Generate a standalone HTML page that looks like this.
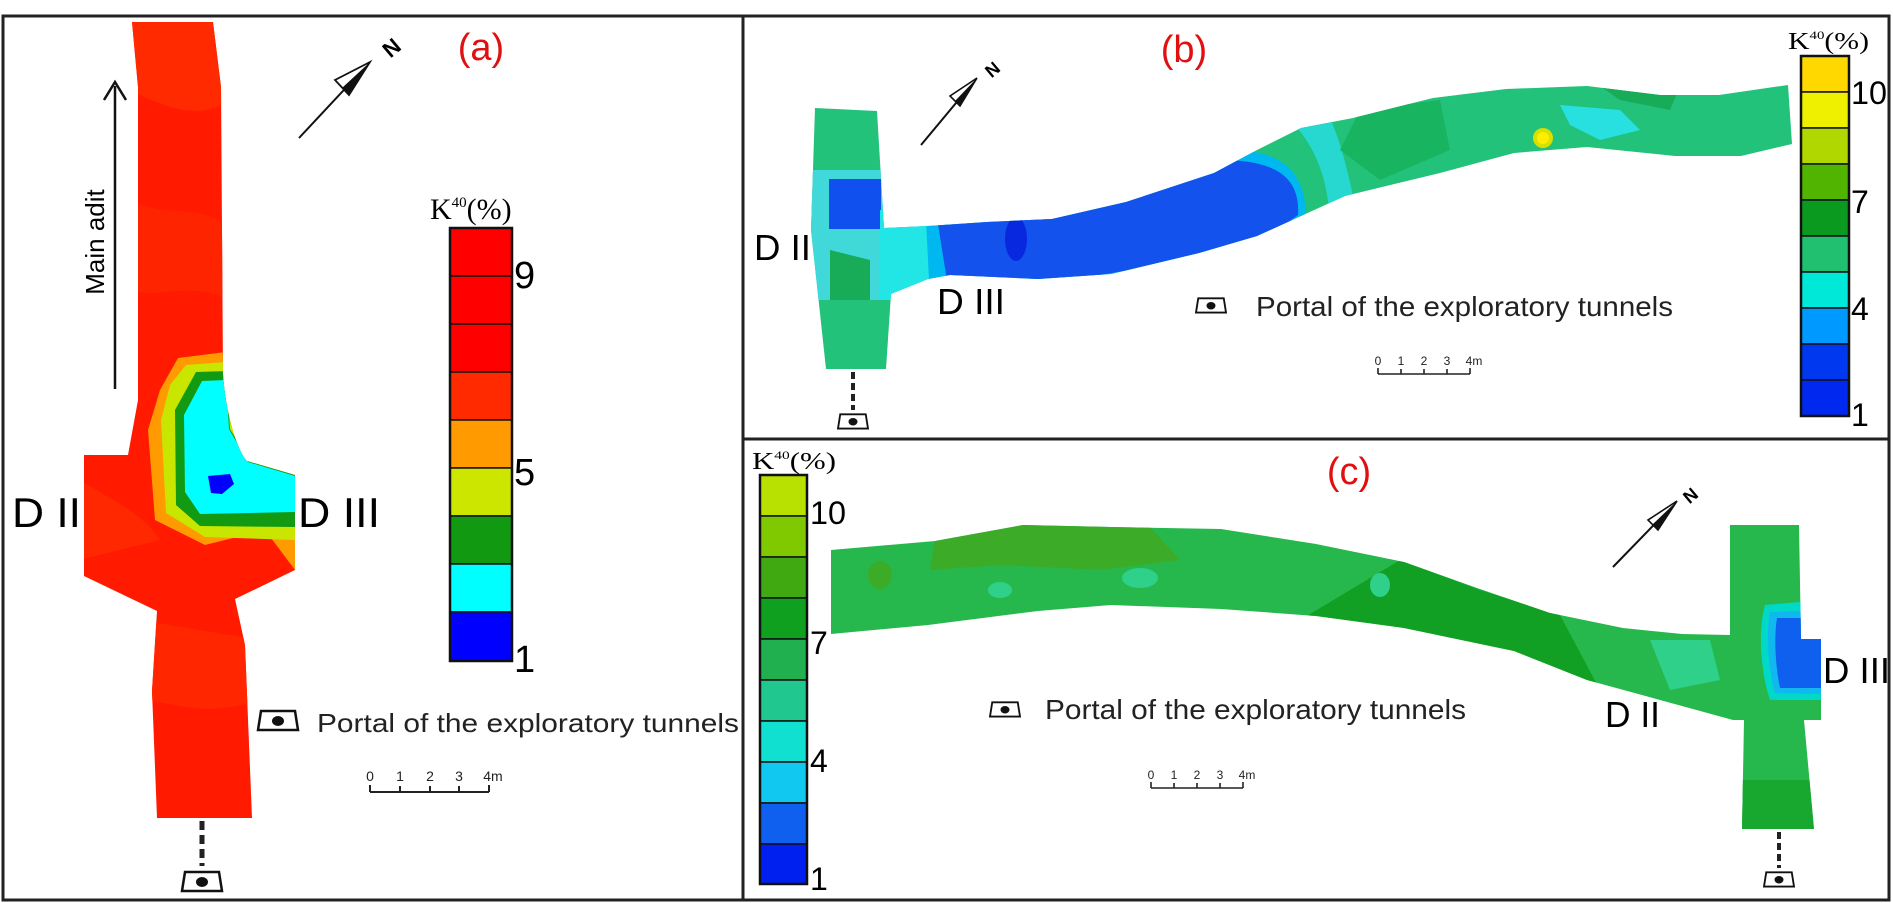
<!DOCTYPE html>
<html><head><meta charset="utf-8"><style>
html,body{margin:0;padding:0;background:#fff;}
svg{display:block}
text{font-family:"Liberation Sans",sans-serif;}
.sf{font-family:"Liberation Serif",serif;}
</style></head><body>
<svg width="1893" height="903" viewBox="0 0 1893 903" xmlns="http://www.w3.org/2000/svg">
<defs>
<g id="portal"><path d="M-17,-9 L17,-9 L20,10 L-20,10 Z" fill="#fff" stroke="#111" stroke-width="2.5"/><ellipse cx="0" cy="1" rx="6" ry="5" fill="#111"/></g>
<clipPath id="ca"><path d="M132,22 L213,22 L221,87 L223,374 C226,420 240,455 247,461 L295,475 L295,570 L235,599 L245,645 L252,818 L157,818 L152,691 L157,611 L84,576 L84,455 L128,455 L138,400 L138,87 Z"/></clipPath>
<clipPath id="cb"><path d="M815,108 L877,111 L884,228 L928,226 L987,222 L1052,219 L1126,202 L1214,173 L1257,150 L1301,128 L1353,118 L1433,98 L1506,89 L1587,86 L1660,95 L1719,95 L1788,85 L1792,144 L1741,156 L1675,156 L1587,147 L1514,153 L1440,173 L1345,196 L1301,216 L1257,236 L1199,253 L1111,274 L1038,279 L950,275 L928,279 L891,294 L886,369 L826,369 L811,230 Z"/></clipPath>
<clipPath id="cc"><path d="M831,550 L935,541 L1023,525 L1111,527 L1221,529 L1316,544 L1404,562 L1477,588 L1550,613 L1623,628 L1682,634 L1730,635 L1730,525 L1799,525 L1801,639 L1821,639 L1821,720 L1804,720 L1814,829 L1742,829 L1744,720 L1733,720 L1660,700 L1587,680 L1514,651 L1404,628 L1316,616 L1221,609 L1111,605 L1038,611 L928,625 L831,634 Z"/></clipPath>
</defs>
<rect x="3" y="16" width="1886" height="884" fill="none" stroke="#222" stroke-width="3"/>
<line x1="743" y1="16" x2="743" y2="900" stroke="#222" stroke-width="3"/>
<line x1="743" y1="439" x2="1889" y2="439" stroke="#222" stroke-width="3"/>

<!-- PANEL A -->
<g clip-path="url(#ca)">
<rect x="0" y="0" width="400" height="900" fill="#ff1a00"/>
<path d="M130,90 C170,110 200,120 230,100 L230,22 L130,22Z" fill="#ff2a00"/>
<path d="M130,200 C170,220 200,200 230,230 L230,300 C190,280 160,300 130,290Z" fill="#ff2400"/>
<path d="M80,480 C110,500 140,510 160,540 L80,560Z" fill="#ff2800"/>
<path d="M140,620 L260,640 L260,700 C200,720 170,700 140,700Z" fill="#ff2600"/>
<path d="M178,358 L226,352 L295,475 L295,570 L265,530 L205,545 L155,520 L148,430 L160,390 Z" fill="#ff9a00"/>
<path d="M186,365 L226,362 L295,475 L295,540 L205,537 L166,513 L161,420 L170,385 Z" fill="#c8e600"/>
<path d="M196,372 L226,371 L230,429 L249,461 L295,475 L295,527 L200,526 L176,505 L175,410 Z" fill="#129a12"/>
<path d="M202,381 L226,380 L229,429 L248,462 L295,476 L295,512 L200,514 L185,492 L184,415 Z" fill="#00ffff"/>
<path d="M208,476 L230,474 L234,484 L222,494 L211,493Z" fill="#0000ff"/>
</g>
<line x1="115" y1="389" x2="115" y2="86" stroke="#111" stroke-width="2.5"/>
<path d="M104,100 L115,82 L126,100" fill="none" stroke="#111" stroke-width="2.5"/>
<text x="0" y="0" font-size="26" transform="translate(104,242) rotate(-90)" text-anchor="middle">Main adit</text>
<line x1="299" y1="138" x2="370" y2="62" stroke="#111" stroke-width="2"/>
<path d="M370,62 L335,80 L349,95 Z" fill="#fff" stroke="#111" stroke-width="1.8"/>
<path d="M370,62 L342,88 L349,95Z" fill="#111"/>
<text x="390" y="56" font-size="22" font-weight="bold" transform="rotate(-40 390 46)" text-anchor="middle">N</text>
<text x="481" y="60" font-size="38" fill="#e01010" text-anchor="middle">(a)</text>
<text x="430" y="219" font-size="30" class="sf">K<tspan font-size="15" dy="-12">40</tspan><tspan dy="12">(%)</tspan></text>
<g stroke="#111" stroke-width="1.5">
<rect x="450" y="228" width="62" height="48" fill="#ff0000"/>
<rect x="450" y="276" width="62" height="48" fill="#ff0000"/>
<rect x="450" y="324" width="62" height="48" fill="#ff0000"/>
<rect x="450" y="372" width="62" height="48" fill="#ff2a00"/>
<rect x="450" y="420" width="62" height="48" fill="#ff9a00"/>
<rect x="450" y="468" width="62" height="48" fill="#cce600"/>
<rect x="450" y="516" width="62" height="48" fill="#129912"/>
<rect x="450" y="564" width="62" height="48" fill="#00ffff"/>
<rect x="450" y="612" width="62" height="49" fill="#0000ff"/>
</g>
<rect x="450" y="228" width="62" height="433" fill="none" stroke="#111" stroke-width="2.5"/>
<text x="514" y="288" font-size="38">9</text>
<text x="514" y="485" font-size="38">5</text>
<text x="514" y="672" font-size="38">1</text>
<text x="12" y="527" font-size="42" textLength="69" lengthAdjust="spacingAndGlyphs">D II</text>
<text x="298" y="527" font-size="42" textLength="82" lengthAdjust="spacingAndGlyphs">D III</text>
<use href="#portal" x="278" y="720"/>
<text x="317" y="732" font-size="26" fill="#222" textLength="422" lengthAdjust="spacingAndGlyphs">Portal of the exploratory tunnels</text>
<g stroke="#222" stroke-width="2"><line x1="370" y1="792" x2="489" y2="792"/><line x1="370" y1="785" x2="370" y2="792"/><line x1="400" y1="786" x2="400" y2="792"/><line x1="430" y1="786" x2="430" y2="792"/><line x1="459" y1="786" x2="459" y2="792"/><line x1="489" y1="785" x2="489" y2="792"/></g>
<g font-size="14" fill="#222" text-anchor="middle"><text x="370" y="781">0</text><text x="400" y="781">1</text><text x="430" y="781">2</text><text x="459" y="781">3</text><text x="493" y="781">4m</text></g>
<line x1="202" y1="821" x2="202" y2="866" stroke="#222" stroke-width="5" stroke-dasharray="9,5"/>
<use href="#portal" x="202" y="881"/>

<!-- PANEL B -->
<g clip-path="url(#cb)">
<rect x="800" y="60" width="1000" height="320" fill="#22c27a"/>
<path d="M805,200 L890,200 L930,230 L950,300 L800,300Z" fill="#40d8d8"/>
<rect x="805" y="170" width="80" height="40" fill="#40d8d8"/>
<rect x="829" y="179" width="52" height="50" fill="#1050ee"/>
<path d="M880,210 L930,215 L960,300 L880,300Z" fill="#22e6e6"/>
<path d="M925,200 L1230,150 C1290,150 1310,180 1305,230 L1250,260 L930,300Z" fill="#00b8f0"/>
<path d="M935,205 L1220,160 C1280,160 1300,180 1298,215 L1250,250 L950,300Z" fill="#1452ee"/>
<ellipse cx="1016" cy="239" rx="11" ry="22" fill="#0828e0"/>
<path d="M1290,120 C1320,150 1330,190 1330,230 L1360,230 C1350,180 1340,130 1320,100Z" fill="#26d8d0"/>
<path d="M1360,110 L1440,100 L1450,150 L1380,180 L1340,150Z" fill="#18b460"/>
<path d="M1560,105 L1620,110 L1640,130 L1600,140 L1570,125Z" fill="#28e0e0"/>
<path d="M1600,86 L1680,86 L1670,110 L1620,100Z" fill="#18ac58"/>
<circle cx="1543" cy="138" r="10" fill="#d8e000"/><circle cx="1543" cy="138" r="6" fill="#ffee00"/>
<path d="M830,250 L870,260 L870,300 L830,300Z" fill="#18ac58"/>
</g>
<line x1="921" y1="145" x2="976" y2="79" stroke="#111" stroke-width="2"/>
<path d="M977,78 L950,96 L960,106Z" fill="#fff" stroke="#111" stroke-width="1.6"/>
<path d="M977,78 L955,101 L960,106Z" fill="#111"/>
<text x="992" y="76" font-size="18" font-weight="bold" transform="rotate(-40 992 69)" text-anchor="middle">N</text>
<text x="1184" y="62" font-size="38" fill="#e01010" text-anchor="middle">(b)</text>
<text x="1788" y="49" font-size="24" class="sf" textLength="81" lengthAdjust="spacingAndGlyphs">K<tspan font-size="12" dy="-10">40</tspan><tspan dy="10">(%)</tspan></text>
<g stroke="#111" stroke-width="1.5">
<rect x="1801" y="56" width="48" height="36" fill="#ffd800"/>
<rect x="1801" y="92" width="48" height="36" fill="#eef000"/>
<rect x="1801" y="128" width="48" height="36" fill="#b0d800"/>
<rect x="1801" y="164" width="48" height="36" fill="#50b400"/>
<rect x="1801" y="200" width="48" height="36" fill="#0a9a20"/>
<rect x="1801" y="236" width="48" height="36" fill="#20c070"/>
<rect x="1801" y="272" width="48" height="36" fill="#00e8d8"/>
<rect x="1801" y="308" width="48" height="36" fill="#0099ff"/>
<rect x="1801" y="344" width="48" height="36" fill="#0038f0"/>
<rect x="1801" y="380" width="48" height="36" fill="#0028ee"/>
</g>
<rect x="1801" y="56" width="48" height="360" fill="none" stroke="#111" stroke-width="2.5"/>
<g font-size="32"><text x="1851" y="104" textLength="36" lengthAdjust="spacingAndGlyphs">10</text><text x="1851" y="213">7</text><text x="1851" y="320">4</text><text x="1851" y="426">1</text></g>
<text x="754" y="260" font-size="36" textLength="57" lengthAdjust="spacingAndGlyphs">D II</text>
<text x="937" y="314" font-size="36" textLength="68" lengthAdjust="spacingAndGlyphs">D III</text>
<use href="#portal" transform="translate(1211 305) scale(0.75)"/>
<text x="1256" y="316" font-size="28" fill="#222" textLength="417" lengthAdjust="spacingAndGlyphs">Portal of the exploratory tunnels</text>
<g stroke="#222" stroke-width="1.6"><line x1="1378" y1="374" x2="1470" y2="374"/><line x1="1378" y1="368" x2="1378" y2="374"/><line x1="1401" y1="369" x2="1401" y2="374"/><line x1="1424" y1="369" x2="1424" y2="374"/><line x1="1447" y1="369" x2="1447" y2="374"/><line x1="1470" y1="368" x2="1470" y2="374"/></g>
<g font-size="12" fill="#222" text-anchor="middle"><text x="1378" y="365">0</text><text x="1401" y="365">1</text><text x="1424" y="365">2</text><text x="1447" y="365">3</text><text x="1474" y="365">4m</text></g>
<line x1="853" y1="372" x2="853" y2="410" stroke="#222" stroke-width="4" stroke-dasharray="7,4"/>
<use href="#portal" transform="translate(853 421) scale(0.75)"/>

<!-- PANEL C -->
<g clip-path="url(#cc)">
<rect x="820" y="500" width="1010" height="340" fill="#26b84c"/>
<path d="M935,541 L1023,520 L1150,527 L1180,560 L1100,570 L1000,565 L930,570Z" fill="#3cac28"/>
<path d="M1300,620 L1400,560 L1480,590 L1560,615 L1600,690 L1500,660 L1380,630Z" fill="#12a024"/>
<path d="M1740,780 L1812,780 L1814,829 L1742,829Z" fill="#18a830"/>
<ellipse cx="1140" cy="578" rx="18" ry="10" fill="#2ed08a"/>
<ellipse cx="1000" cy="590" rx="12" ry="8" fill="#2ed08a"/>
<ellipse cx="1380" cy="585" rx="10" ry="12" fill="#2ed08a"/>
<ellipse cx="880" cy="575" rx="12" ry="14" fill="#3cac28"/>
<path d="M1650,640 L1710,640 L1720,680 L1670,690Z" fill="#2ed08a"/>
<path d="M1765,605 L1822,600 L1822,700 L1770,700 C1760,670 1758,630 1765,605Z" fill="#00d8c8"/>
<path d="M1770,612 L1822,610 L1822,694 L1775,693 C1768,670 1766,630 1770,612Z" fill="#10b8f0"/>
<path d="M1777,618 L1822,618 L1822,688 L1780,688 C1775,665 1774,635 1777,618Z" fill="#1060f0"/>
</g>
<text x="752" y="469" font-size="24" class="sf" textLength="84" lengthAdjust="spacingAndGlyphs">K<tspan font-size="12" dy="-10">40</tspan><tspan dy="10">(%)</tspan></text>
<g stroke="#111" stroke-width="1.5">
<rect x="760" y="475" width="47" height="41" fill="#b8e000"/>
<rect x="760" y="516" width="47" height="41" fill="#80c800"/>
<rect x="760" y="557" width="47" height="41" fill="#40a810"/>
<rect x="760" y="598" width="47" height="41" fill="#10a020"/>
<rect x="760" y="639" width="47" height="41" fill="#20b050"/>
<rect x="760" y="680" width="47" height="41" fill="#20c890"/>
<rect x="760" y="721" width="47" height="41" fill="#10e0d0"/>
<rect x="760" y="762" width="47" height="41" fill="#10c8f0"/>
<rect x="760" y="803" width="47" height="41" fill="#1060f0"/>
<rect x="760" y="844" width="47" height="40" fill="#0020f0"/>
</g>
<rect x="760" y="475" width="47" height="409" fill="none" stroke="#111" stroke-width="2.5"/>
<g font-size="32"><text x="810" y="524" textLength="36" lengthAdjust="spacingAndGlyphs">10</text><text x="810" y="654">7</text><text x="810" y="772">4</text><text x="810" y="890">1</text></g>
<text x="1349" y="484" font-size="38" fill="#e01010" text-anchor="middle">(c)</text>
<line x1="1613" y1="567" x2="1676" y2="502" stroke="#111" stroke-width="2"/>
<path d="M1677,501 L1648,520 L1658,530Z" fill="#fff" stroke="#111" stroke-width="1.6"/>
<path d="M1677,501 L1652,525 L1658,530Z" fill="#111"/>
<text x="1690" y="502" font-size="18" font-weight="bold" transform="rotate(-40 1690 495)" text-anchor="middle">N</text>
<text x="1605" y="727" font-size="36" textLength="55" lengthAdjust="spacingAndGlyphs">D II</text>
<text x="1823" y="683" font-size="36" textLength="67" lengthAdjust="spacingAndGlyphs">D III</text>
<use href="#portal" transform="translate(1005 709) scale(0.75)"/>
<text x="1045" y="719" font-size="28" fill="#222" textLength="421" lengthAdjust="spacingAndGlyphs">Portal of the exploratory tunnels</text>
<g stroke="#222" stroke-width="1.6"><line x1="1151" y1="788" x2="1243" y2="788"/><line x1="1151" y1="782" x2="1151" y2="788"/><line x1="1174" y1="783" x2="1174" y2="788"/><line x1="1197" y1="783" x2="1197" y2="788"/><line x1="1220" y1="783" x2="1220" y2="788"/><line x1="1243" y1="782" x2="1243" y2="788"/></g>
<g font-size="12" fill="#222" text-anchor="middle"><text x="1151" y="779">0</text><text x="1174" y="779">1</text><text x="1197" y="779">2</text><text x="1220" y="779">3</text><text x="1247" y="779">4m</text></g>
<line x1="1779" y1="832" x2="1779" y2="868" stroke="#222" stroke-width="4" stroke-dasharray="7,4"/>
<use href="#portal" transform="translate(1779 879) scale(0.75)"/>
</svg>
</body></html>
